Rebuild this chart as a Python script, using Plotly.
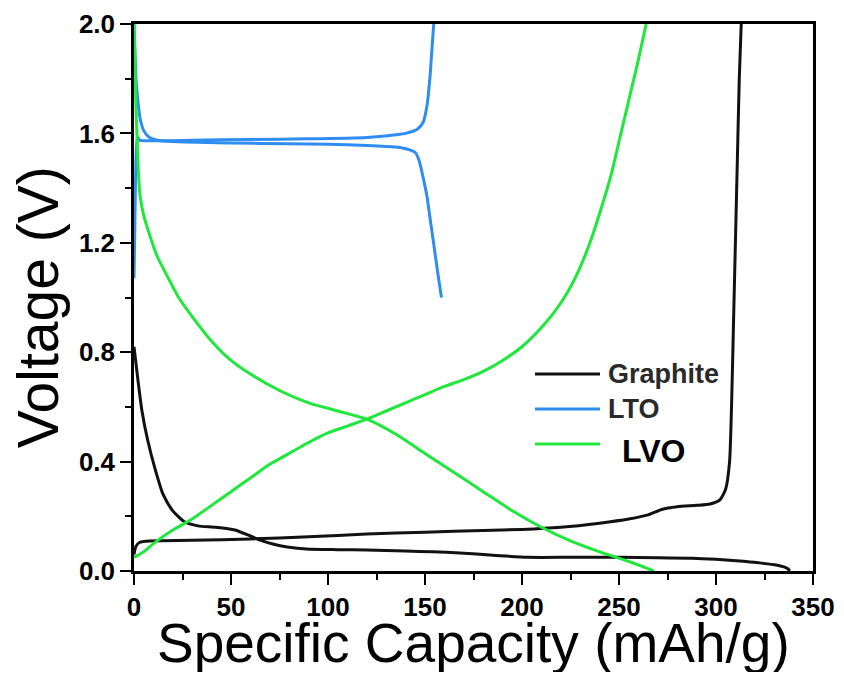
import plotly.graph_objects as go

# ---------------- data ----------------
graphite_dis_cap = [0, 2, 4, 7, 11, 15, 20, 26, 33, 42, 52, 60, 65, 72, 79, 89, 105, 120, 140, 154, 168, 185, 203, 225, 250, 270, 288, 300, 314, 322, 331, 335, 337, 338]
graphite_dis_v   = [0.82, 0.70, 0.59, 0.48, 0.37, 0.28, 0.22, 0.18, 0.165, 0.16, 0.15, 0.128, 0.113, 0.098, 0.088, 0.08, 0.078, 0.077, 0.073, 0.07, 0.066, 0.058, 0.05, 0.05, 0.05, 0.048, 0.047, 0.043, 0.036, 0.03, 0.022, 0.015, 0.008, 0.0]
graphite_chg_cap = [0, 1, 3, 8, 30, 60, 90, 120, 150, 180, 200, 220, 240, 255, 265, 272, 280, 290, 297, 302, 305, 307, 308, 309, 310, 311, 312, 313]
graphite_chg_v   = [0.06, 0.09, 0.105, 0.11, 0.112, 0.117, 0.125, 0.135, 0.142, 0.148, 0.152, 0.16, 0.175, 0.19, 0.205, 0.225, 0.235, 0.24, 0.245, 0.26, 0.3, 0.4, 0.6, 0.9, 1.2, 1.5, 1.8, 2.0]

lto_dis_cap = [0, 0.5, 1, 2, 3, 5, 8, 12, 20, 50, 80, 100, 120, 135, 142, 145, 147, 149, 151, 153, 155, 157, 158.5]
lto_dis_v   = [2.0, 1.9, 1.8, 1.72, 1.66, 1.61, 1.585, 1.575, 1.57, 1.565, 1.562, 1.56, 1.556, 1.55, 1.54, 1.53, 1.5, 1.44, 1.37, 1.27, 1.17, 1.07, 1.0]
lto_chg_cap = [0, 0.3, 0.6, 1, 1.5, 2, 3, 6, 30, 60, 90, 120, 135, 140, 146, 149, 151, 152.5, 153.5, 154.5]
lto_chg_v   = [1.07, 1.2, 1.35, 1.5, 1.57, 1.585, 1.575, 1.573, 1.575, 1.578, 1.58, 1.585, 1.595, 1.6, 1.615, 1.64, 1.7, 1.8, 1.9, 2.0]

lvo_dis_cap = [0, 0.5, 1, 1.5, 2, 3, 5, 8, 12, 17, 23, 30, 40, 50, 60, 75, 90, 105, 120, 135, 150, 165, 180, 195, 210, 225, 240, 255, 268]
lvo_dis_v   = [2.0, 1.85, 1.7, 1.6, 1.5, 1.38, 1.3, 1.23, 1.15, 1.08, 1.0, 0.93, 0.84, 0.77, 0.72, 0.66, 0.615, 0.585, 0.555, 0.5, 0.43, 0.36, 0.29, 0.22, 0.16, 0.11, 0.07, 0.035, 0.0]
lvo_chg_cap = [0, 5, 10, 20, 30, 40, 50, 60, 70, 80, 90, 100, 110, 120, 130, 140, 150, 160, 170, 180, 190, 200, 210, 220, 228, 235, 241, 246, 251, 256, 260, 264]
lvo_chg_v   = [0.05, 0.07, 0.1, 0.15, 0.19, 0.24, 0.29, 0.34, 0.39, 0.43, 0.47, 0.505, 0.53, 0.555, 0.585, 0.615, 0.645, 0.675, 0.7, 0.73, 0.77, 0.82, 0.89, 0.98, 1.08, 1.2, 1.33, 1.45, 1.6, 1.75, 1.87, 2.0]

series_names = ["Graphite", "LTO", "LVO"]
series_colors = ["#111111", "#2f8cf0", "#1ee83c"]

x_ticks = [0, 50, 100, 150, 200, 250, 300, 350]
y_ticks = [0.0, 0.4, 0.8, 1.2, 1.6, 2.0]
y_tick_labels = ["0.0", "0.4", "0.8", "1.2", "1.6", "2.0"]

# ---------------- figure ----------------
fig = go.Figure()
curves = [
    (graphite_dis_cap, graphite_dis_v, 0), (graphite_chg_cap, graphite_chg_v, 0),
    (lto_dis_cap, lto_dis_v, 1), (lto_chg_cap, lto_chg_v, 1),
    (lvo_dis_cap, lvo_dis_v, 2), (lvo_chg_cap, lvo_chg_v, 2),
]
for xs, ys, k in curves:
    fig.add_trace(go.Scatter(x=xs, y=ys, mode="lines", name=series_names[k],
                             line=dict(color=series_colors[k], width=3, shape="spline", smoothing=0.6),
                             showlegend=False, hoverinfo="skip"))

FONT = "Liberation Sans, Arial, sans-serif"
tickfont = dict(family=FONT, size=26, color="black", weight="bold")
fig.update_xaxes(range=[0, 350], tickvals=x_ticks, ticks="outside", ticklen=11, tickwidth=2,
                 tickcolor="black", showline=True, linewidth=2.5, linecolor="black", mirror=True,
                 showgrid=False, zeroline=False, tickfont=tickfont, automargin=False,
                 minor=dict(dtick=25, ticks="outside", ticklen=6, tickwidth=2, tickcolor="black"))
fig.update_yaxes(range=[0, 2.0], tickvals=y_ticks, ticktext=y_tick_labels, ticks="outside", ticklen=11,
                 tickwidth=2, tickcolor="black", showline=True, linewidth=2.5, linecolor="black", mirror=True,
                 showgrid=False, zeroline=False, tickfont=tickfont, automargin=False,
                 minor=dict(dtick=0.2, ticks="outside", ticklen=6, tickwidth=2, tickcolor="black"))

# custom legend
leg_y = [0.360, 0.296, 0.232]
for k in range(3):
    fig.add_shape(type="line", xref="paper", yref="paper", x0=0.5906, x1=0.6863, y0=leg_y[k], y1=leg_y[k],
                  line=dict(color=series_colors[k], width=3))
fig.add_annotation(xref="paper", yref="paper", x=0.695, y=leg_y[0], text="Graphite", showarrow=False,
                   xanchor="left", yanchor="middle",
                   font=dict(family=FONT, size=27, color="#2a2a2a", weight="bold"))
fig.add_annotation(xref="paper", yref="paper", x=0.695, y=leg_y[1], text="LTO", showarrow=False,
                   xanchor="left", yanchor="middle",
                   font=dict(family=FONT, size=27, color="#2a2a2a", weight="bold"))
fig.add_annotation(xref="paper", yref="paper", x=0.716, y=leg_y[2] - 0.012, text="LVO", showarrow=False,
                   xanchor="left", yanchor="middle",
                   font=dict(family=FONT, size=32, color="black", weight="bold"))

# axis titles
fig.add_annotation(xref="paper", yref="paper", x=0.5, y=-0.132, text="Specific Capacity (mAh/g)",
                   showarrow=False, xanchor="center", yanchor="middle",
                   font=dict(family=FONT, size=55, color="black"))
fig.add_annotation(xref="paper", yref="paper", x=-0.141, y=0.4826, text="Voltage (V)", textangle=-90,
                   showarrow=False, xanchor="center", yanchor="middle",
                   font=dict(family=FONT, size=57, color="black"))

# the page body adds an 8px margin, so the figure is sized to fit the 844x680 window
fig.update_layout(width=828, height=664, margin=dict(l=126, r=23, t=16, b=101),
                  plot_bgcolor="white", paper_bgcolor="white", showlegend=False)

fig.write_html("out.html")
